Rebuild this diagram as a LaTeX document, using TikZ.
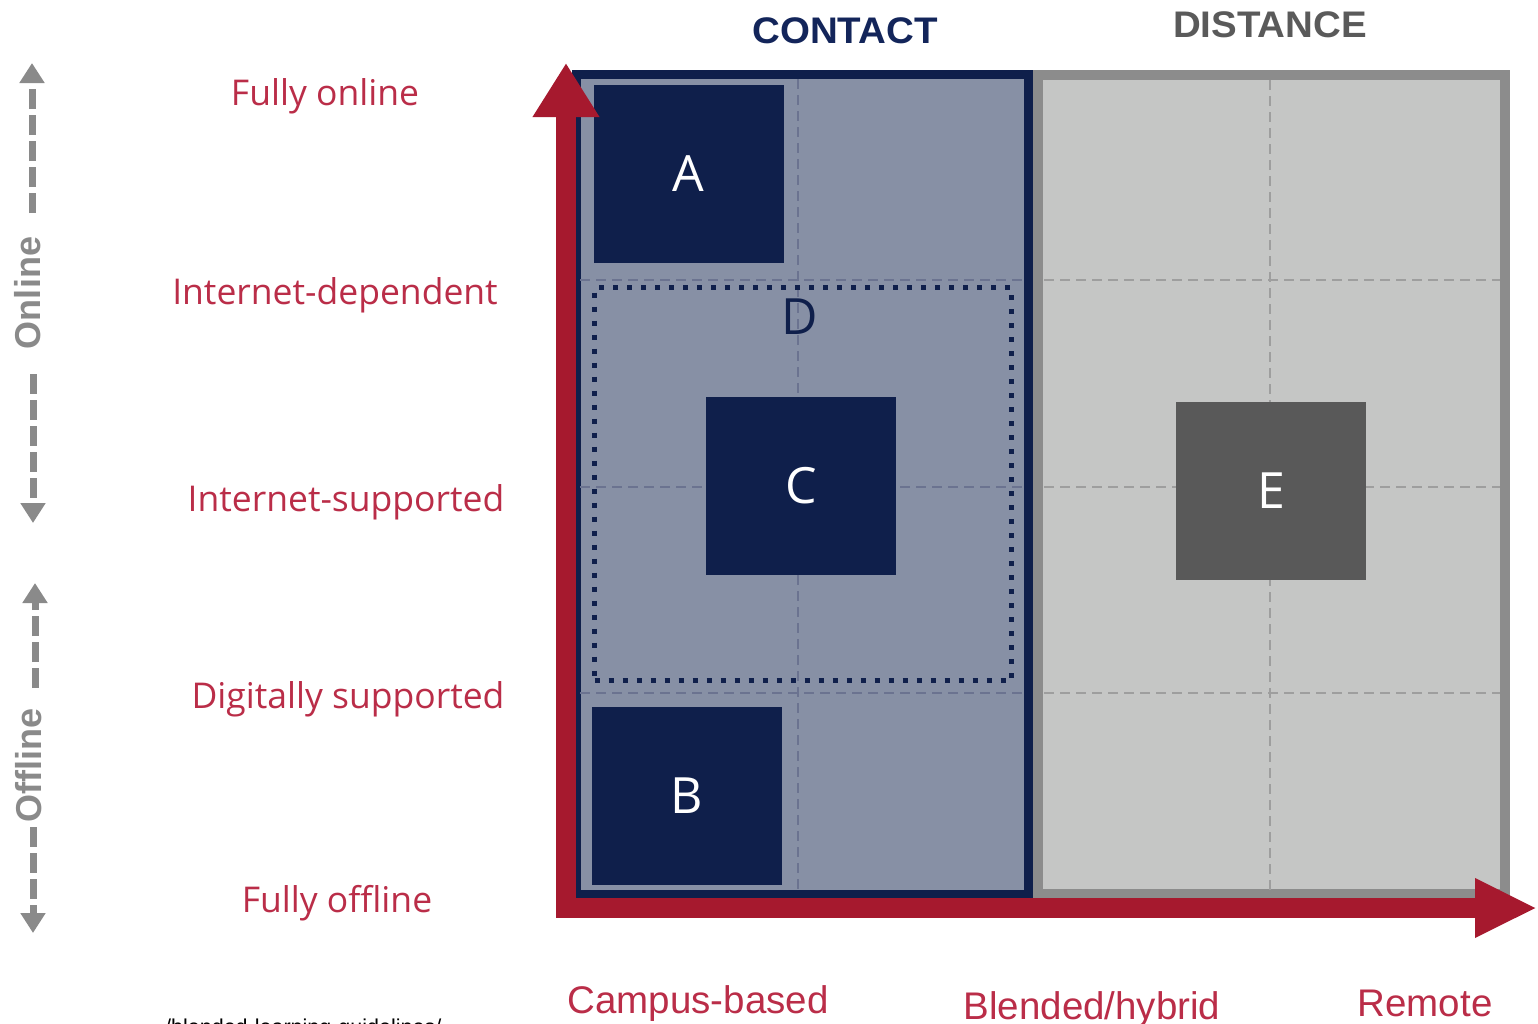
\documentclass[tikz,border=0pt]{standalone}
\usepackage{fontspec}
\setmainfont{Open Sans}
\newfontfamily\arialf{Liberation Sans}
\usetikzlibrary{arrows.meta}
\definecolor{navy}{HTML}{0F1F4B}
\definecolor{contactfill}{HTML}{8790A5}
\definecolor{distfill}{HTML}{C5C6C5}
\definecolor{distborder}{HTML}{8C8C8C}
\definecolor{eboxfill}{HTML}{595959}
\definecolor{axisred}{HTML}{A6192E}
\definecolor{labelred}{HTML}{BA2D48}
\definecolor{arrowgray}{HTML}{8A8A8A}
\definecolor{contacttext}{HTML}{13255A}
\definecolor{disttext}{HTML}{5A5A5A}
\definecolor{gridc}{HTML}{6B7390}
\definecolor{gridd}{HTML}{9E9E9E}
\begin{document}
\begin{tikzpicture}[x=1pt,y=-1pt,
  blockbox/.style={fill=navy, minimum width=190pt, minimum height=178pt, inner sep=0pt,
    text=white, font=\fontsize{50}{50}\selectfont},
  levellabel/.style={text=labelred, font=\fontsize{35.5}{35.5}\selectfont, inner sep=0pt},
  modelabel/.style={text=labelred, font=\arialf\fontsize{38.5}{38.5}\selectfont, inner sep=0pt, anchor=base},
  headlabel/.style={font=\arialf\bfseries\fontsize{37}{37}\selectfont, inner sep=0pt},
  sidelabel/.style={text=arrowgray, font=\arialf\bfseries\fontsize{36}{36}\selectfont, rotate=90, inner sep=0pt},
  grayarrow/.style={draw=arrowgray, line width=7pt, dash pattern=on 20pt off 6pt,
    -{Triangle[length=20pt,width=24pt]}},
  gridlinec/.style={draw=gridc, line width=1.4pt, dash pattern=on 10pt off 6pt},
  gridlined/.style={draw=gridd, line width=1.4pt, dash pattern=on 10pt off 6pt},
]
\useasboundingbox (0,0) rectangle (1538,1023);

% panels
\node[draw=navy, line width=9pt, fill=contactfill, minimum width=452pt, minimum height=820pt, inner sep=0pt] (contact) at (802,484) {};
\node[draw=distborder, line width=10pt, fill=distfill, minimum width=467pt, minimum height=819pt, inner sep=0pt] (distance) at (1271.5,484.5) {};

% grid lines
\draw[gridlinec] (798,79) -- (798,891);
\draw[gridlinec] (580,280) -- (1022,280);
\draw[gridlinec] (580,487) -- (1022,487);
\draw[gridlinec] (580,693) -- (1022,693);
\draw[gridlined] (1270,80) -- (1270,890);
\draw[gridlined] (1044,280) -- (1500,280);
\draw[gridlined] (1044,487) -- (1500,487);
\draw[gridlined] (1044,693) -- (1500,693);

% dotted D region
\node[draw=navy, line width=5pt, dash pattern=on 5pt off 9pt, minimum width=417pt, minimum height=393pt, inner sep=0pt] (Dbox) at (803,484) {};
\node[text=navy, font=\fontsize{50}{50}\selectfont, inner sep=0pt] (Dlab) at (800,317) {D};

% blocks
\node[blockbox] (A) at (688.5,174) {A};
\node[blockbox] (B) at (686.5,796) {B};
\node[blockbox] (C) at (801,486) {C};
\node[blockbox, fill=eboxfill] (E) at (1271,491) {E};

% headers
\node[headlabel, text=contacttext] (hcontact) at (845,31) {\scalebox{1.04}[1]{CONTACT}};
\node[headlabel, text=disttext] (hdistance) at (1270,25) {\scalebox{1.04}[1]{DISTANCE}};

% red axes
\coordinate (ytip) at (566,63);
\coordinate (orig) at (566,908);
\coordinate (xtip) at (1537,908);
\draw[draw=axisred, line width=20pt, line join=miter,
  {Triangle[length=54pt,width=63pt]}-{Triangle[length=62pt,width=55pt]}] (ytip) -- (orig) -- (xtip);

% level labels
\node[levellabel] (l1) at (325,96) {Fully online};
\node[levellabel] (l2) at (335,295) {Internet-dependent};
\node[levellabel] (l3) at (346,502) {Internet-supported};
\node[levellabel] (l4) at (348,699) {Digitally supported};
\node[levellabel] (l5) at (337,903) {Fully offline};

% mode labels
\node[modelabel] (m1) at (698,1013) {Campus-based};
\node[modelabel] (m2) at (1092,1019) {Blended/hybrid};
\node[modelabel] (m3) at (1425,1016) {Remote};

% side arrows
\node[sidelabel] (online) at (28,293) {Online};
\coordinate (onA) at (32,213);
\coordinate (onTop) at (32,63);
\coordinate (onB) at (33,374);
\coordinate (onBot) at (33,523);
\draw[grayarrow] (onA) -- (onTop);
\draw[grayarrow] (onB) -- (onBot);

\node[sidelabel] (offline) at (29,765) {Offline};
\coordinate (offA) at (35,688);
\coordinate (offTop) at (35,583);
\coordinate (offB) at (33,827);
\coordinate (offBot) at (33,933);
\draw[grayarrow] (offA) -- (offTop);
\draw[grayarrow] (offB) -- (offBot);

% cut-off source line
\node[anchor=base west, font=\arialf\fontsize{21.5}{21.5}\selectfont, inner sep=0pt] (src) at (165,1034) {/blended-learning-guidelines/};
\end{tikzpicture}
\end{document}
